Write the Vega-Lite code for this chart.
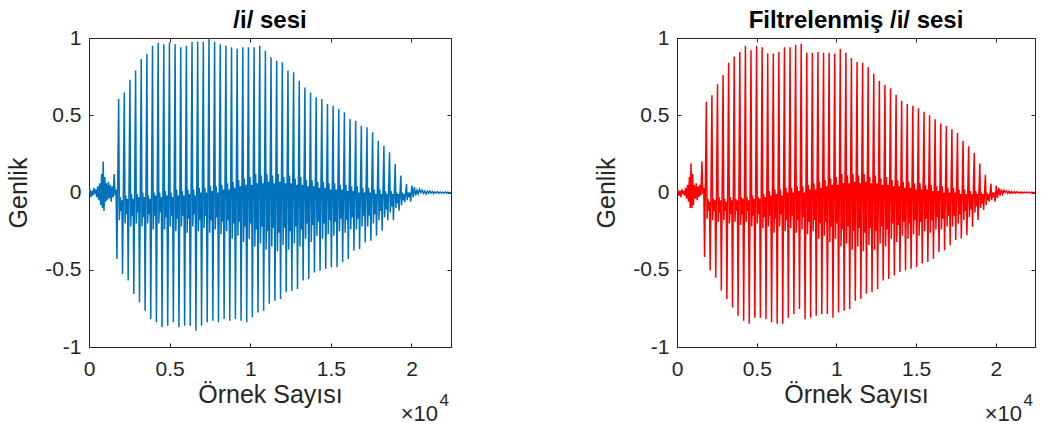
{
  "$schema": "https://vega.github.io/schema/vega-lite/v6.json",
  "background": "white",
  "padding": {"left": 6, "top": 9, "right": 4, "bottom": 0},
  "config": {
    "font": "Liberation Sans",
    "view": {"stroke": null},
    "axis": {
      "labelFont": "Liberation Sans", "titleFont": "Liberation Sans",
      "labelColor": "#262626", "titleColor": "#262626",
      "domainColor": "#262626", "tickColor": "#262626",
      "grid": false, "labelFontSize": 21, "titleFontSize": 25, "titleFontWeight": "normal",
      "tickSize": -4, "domainWidth": 1, "tickWidth": 1
    },
    "title": {"font": "Liberation Sans", "fontSize": 24, "fontWeight": "bold", "color": "#000000", "offset": -6}
  },
  "data": {"values": [
    {"n":0,"a":0.0,"b":0.0},{"n":60,"a":0.02,"b":0.01},{"n":120,"a":-0.03,"b":-0.02},{"n":180,"a":0.01,"b":0.01},
    {"n":240,"a":-0.02,"b":-0.03},{"n":300,"a":0.03,"b":0.02},{"n":360,"a":-0.01,"b":-0.01},{"n":420,"a":0.02,"b":0.01},
    {"n":480,"a":-0.03,"b":-0.02},{"n":540,"a":0.04,"b":0.03},{"n":600,"a":-0.05,"b":-0.04},{"n":660,"a":0.06,"b":0.05},
    {"n":720,"a":-0.08,"b":-0.06},{"n":780,"a":0.12,"b":0.1},{"n":830,"a":-0.1,"b":-0.1},{"n":880,"a":0.2,"b":0.19},
    {"n":930,"a":-0.12,"b":-0.1},{"n":980,"a":0.1,"b":0.12},{"n":1030,"a":-0.06,"b":-0.08},{"n":1080,"a":0.06,"b":0.05},
    {"n":1140,"a":-0.05,"b":-0.04},{"n":1200,"a":0.07,"b":0.06},{"n":1260,"a":-0.04,"b":-0.05},{"n":1320,"a":0.05,"b":0.04},
    {"n":1380,"a":-0.06,"b":-0.03},{"n":1440,"a":0.04,"b":0.05},{"n":1500,"a":-0.03,"b":-0.02},{"n":1560,"a":0.12,"b":0.2},
    {"n":1620,"a":-0.02,"b":-0.01},{"n":1680,"a":0.02,"b":0.03},
    {"n":1730,"a":-0.43,"b":-0.417},{"n":1840,"a":0.605,"b":0.587},{"n":1885,"a":-0.18,"b":-0.17},{"n":1935,"a":-0.03,"b":-0.04},{"n":1990,"a":-0.12,"b":-0.12},{"n":2040,"a":-0.05,"b":-0.06},
    {"n":2080,"a":-0.528,"b":-0.504},{"n":2190,"a":0.648,"b":0.63},{"n":2235,"a":-0.2,"b":-0.18},{"n":2285,"a":-0.02,"b":-0.04},{"n":2340,"a":-0.14,"b":-0.12},{"n":2390,"a":-0.04,"b":-0.05},
    {"n":2430,"a":-0.57,"b":-0.552},{"n":2540,"a":0.73,"b":0.7},{"n":2585,"a":-0.22,"b":-0.19},{"n":2635,"a":-0.01,"b":-0.03},{"n":2690,"a":-0.15,"b":-0.13},{"n":2740,"a":-0.04,"b":-0.05},
    {"n":2780,"a":-0.657,"b":-0.635},{"n":2890,"a":0.79,"b":0.76},{"n":2935,"a":-0.2,"b":-0.18},{"n":2985,"a":-0.01,"b":-0.04},{"n":3040,"a":-0.13,"b":-0.12},{"n":3090,"a":-0.03,"b":-0.06},
    {"n":3130,"a":-0.71,"b":-0.69},{"n":3240,"a":0.864,"b":0.84},{"n":3285,"a":-0.22,"b":-0.2},{"n":3335,"a":0.0,"b":-0.03},{"n":3390,"a":-0.16,"b":-0.14},{"n":3440,"a":-0.03,"b":-0.05},
    {"n":3480,"a":-0.765,"b":-0.744},{"n":3590,"a":0.896,"b":0.88},{"n":3635,"a":-0.2,"b":-0.19},{"n":3685,"a":-0.02,"b":-0.04},{"n":3740,"a":-0.14,"b":-0.12},{"n":3790,"a":-0.04,"b":-0.05},
    {"n":3830,"a":-0.819,"b":-0.798},{"n":3940,"a":0.95,"b":0.91},{"n":3985,"a":-0.24,"b":-0.21},{"n":4035,"a":0.0,"b":-0.03},{"n":4090,"a":-0.15,"b":-0.14},{"n":4140,"a":-0.02,"b":-0.04},
    {"n":4180,"a":-0.84,"b":-0.83},{"n":4290,"a":0.968,"b":0.95},{"n":4335,"a":-0.2,"b":-0.19},{"n":4385,"a":0.0,"b":-0.03},{"n":4440,"a":-0.13,"b":-0.12},{"n":4490,"a":-0.03,"b":-0.05},
    {"n":4530,"a":-0.872,"b":-0.85},{"n":4640,"a":0.96,"b":0.92},{"n":4685,"a":-0.24,"b":-0.22},{"n":4735,"a":0.01,"b":-0.02},{"n":4790,"a":-0.16,"b":-0.15},{"n":4840,"a":-0.02,"b":-0.04},
    {"n":4880,"a":-0.862,"b":-0.81},{"n":4990,"a":0.972,"b":0.95},{"n":5035,"a":-0.22,"b":-0.2},{"n":5085,"a":0.0,"b":-0.03},{"n":5140,"a":-0.15,"b":-0.14},{"n":5190,"a":-0.03,"b":-0.04},
    {"n":5230,"a":-0.84,"b":-0.81},{"n":5340,"a":0.96,"b":0.94},{"n":5385,"a":-0.25,"b":-0.23},{"n":5435,"a":0.02,"b":-0.01},{"n":5490,"a":-0.17,"b":-0.16},{"n":5540,"a":-0.02,"b":-0.03},
    {"n":5580,"a":-0.872,"b":-0.82},{"n":5690,"a":0.94,"b":0.9},{"n":5735,"a":-0.22,"b":-0.22},{"n":5785,"a":0.01,"b":0.01},{"n":5840,"a":-0.15,"b":-0.15},{"n":5890,"a":-0.02,"b":-0.02},
    {"n":5930,"a":-0.862,"b":-0.84},{"n":6040,"a":0.95,"b":0.9},{"n":6085,"a":-0.26,"b":-0.26},{"n":6135,"a":0.02,"b":0.02},{"n":6190,"a":-0.17,"b":-0.17},{"n":6240,"a":-0.01,"b":-0.01},
    {"n":6280,"a":-0.862,"b":-0.85},{"n":6390,"a":0.975,"b":0.91},{"n":6435,"a":-0.22,"b":-0.22},{"n":6485,"a":0.02,"b":0.02},{"n":6540,"a":-0.14,"b":-0.14},{"n":6590,"a":-0.02,"b":-0.02},
    {"n":6630,"a":-0.894,"b":-0.85},{"n":6740,"a":0.975,"b":0.94},{"n":6785,"a":-0.25,"b":-0.25},{"n":6835,"a":0.03,"b":0.03},{"n":6890,"a":-0.18,"b":-0.18},{"n":6940,"a":0.0,"b":0.0},
    {"n":6980,"a":-0.862,"b":-0.81},{"n":7090,"a":0.975,"b":0.94},{"n":7135,"a":-0.23,"b":-0.23},{"n":7185,"a":0.03,"b":0.03},{"n":7240,"a":-0.15,"b":-0.15},{"n":7290,"a":0.0,"b":0.0},
    {"n":7330,"a":-0.84,"b":-0.787},{"n":7440,"a":1.0,"b":0.957},{"n":7485,"a":-0.26,"b":-0.26},{"n":7535,"a":0.04,"b":0.04},{"n":7590,"a":-0.18,"b":-0.18},{"n":7640,"a":0.01,"b":0.01},
    {"n":7680,"a":-0.83,"b":-0.754},{"n":7790,"a":0.975,"b":0.963},{"n":7835,"a":-0.24,"b":-0.24},{"n":7885,"a":0.04,"b":0.04},{"n":7940,"a":-0.16,"b":-0.16},{"n":7990,"a":0.0,"b":0.0},
    {"n":8030,"a":-0.84,"b":-0.82},{"n":8140,"a":0.96,"b":0.905},{"n":8185,"a":-0.27,"b":-0.27},{"n":8235,"a":0.05,"b":0.05},{"n":8290,"a":-0.19,"b":-0.19},{"n":8340,"a":0.02,"b":0.02},
    {"n":8380,"a":-0.819,"b":-0.81},{"n":8490,"a":0.95,"b":0.905},{"n":8535,"a":-0.25,"b":-0.25},{"n":8585,"a":0.06,"b":0.06},{"n":8640,"a":-0.18,"b":-0.18},{"n":8690,"a":0.02,"b":0.02},
    {"n":8730,"a":-0.83,"b":-0.798},{"n":8840,"a":0.94,"b":0.91},{"n":8885,"a":-0.3,"b":-0.3},{"n":8935,"a":0.07,"b":0.07},{"n":8990,"a":-0.2,"b":-0.2},{"n":9040,"a":0.03,"b":0.03},
    {"n":9080,"a":-0.819,"b":-0.787},{"n":9190,"a":0.93,"b":0.905},{"n":9235,"a":-0.28,"b":-0.28},{"n":9285,"a":0.08,"b":0.08},{"n":9340,"a":-0.19,"b":-0.19},{"n":9390,"a":0.04,"b":0.04},
    {"n":9430,"a":-0.83,"b":-0.787},{"n":9540,"a":0.94,"b":0.905},{"n":9585,"a":-0.32,"b":-0.32},{"n":9635,"a":0.09,"b":0.09},{"n":9690,"a":-0.22,"b":-0.22},{"n":9740,"a":0.05,"b":0.05},
    {"n":9780,"a":-0.84,"b":-0.81},{"n":9890,"a":0.94,"b":0.9},{"n":9935,"a":-0.3,"b":-0.3},{"n":9985,"a":0.1,"b":0.1},{"n":10040,"a":-0.2,"b":-0.2},{"n":10090,"a":0.05,"b":0.05},
    {"n":10130,"a":-0.808,"b":-0.776},{"n":10240,"a":0.94,"b":0.93},{"n":10285,"a":-0.35,"b":-0.35},{"n":10335,"a":0.12,"b":0.12},{"n":10390,"a":-0.24,"b":-0.24},{"n":10440,"a":0.06,"b":0.06},
    {"n":10480,"a":-0.776,"b":-0.765},{"n":10590,"a":0.95,"b":0.905},{"n":10635,"a":-0.33,"b":-0.33},{"n":10685,"a":0.11,"b":0.11},{"n":10740,"a":-0.22,"b":-0.22},{"n":10790,"a":0.06,"b":0.06},
    {"n":10830,"a":-0.765,"b":-0.754},{"n":10940,"a":0.918,"b":0.87},{"n":10985,"a":-0.37,"b":-0.37},{"n":11035,"a":0.12,"b":0.12},{"n":11090,"a":-0.25,"b":-0.25},{"n":11140,"a":0.07,"b":0.07},
    {"n":11180,"a":-0.72,"b":-0.7},{"n":11290,"a":0.875,"b":0.844},{"n":11335,"a":-0.35,"b":-0.35},{"n":11385,"a":0.11,"b":0.11},{"n":11440,"a":-0.23,"b":-0.23},{"n":11490,"a":0.06,"b":0.06},
    {"n":11530,"a":-0.7,"b":-0.69},{"n":11640,"a":0.853,"b":0.84},{"n":11685,"a":-0.38,"b":-0.38},{"n":11735,"a":0.12,"b":0.12},{"n":11790,"a":-0.26,"b":-0.26},{"n":11840,"a":0.07,"b":0.07},
    {"n":11880,"a":-0.69,"b":-0.656},{"n":11990,"a":0.843,"b":0.81},{"n":12035,"a":-0.34,"b":-0.34},{"n":12085,"a":0.1,"b":0.1},{"n":12140,"a":-0.23,"b":-0.23},{"n":12190,"a":0.06,"b":0.06},
    {"n":12230,"a":-0.646,"b":-0.646},{"n":12340,"a":0.79,"b":0.768},{"n":12385,"a":-0.37,"b":-0.37},{"n":12435,"a":0.11,"b":0.11},{"n":12490,"a":-0.25,"b":-0.25},{"n":12540,"a":0.06,"b":0.06},
    {"n":12580,"a":-0.636,"b":-0.624},{"n":12690,"a":0.778,"b":0.724},{"n":12735,"a":-0.33,"b":-0.33},{"n":12785,"a":0.09,"b":0.09},{"n":12840,"a":-0.22,"b":-0.22},{"n":12890,"a":0.05,"b":0.05},
    {"n":12930,"a":-0.625,"b":-0.57},{"n":13040,"a":0.724,"b":0.696},{"n":13085,"a":-0.35,"b":-0.35},{"n":13135,"a":0.1,"b":0.1},{"n":13190,"a":-0.24,"b":-0.24},{"n":13240,"a":0.05,"b":0.05},
    {"n":13280,"a":-0.57,"b":-0.56},{"n":13390,"a":0.68,"b":0.674},{"n":13435,"a":-0.3,"b":-0.3},{"n":13485,"a":0.08,"b":0.08},{"n":13540,"a":-0.2,"b":-0.2},{"n":13590,"a":0.04,"b":0.04},
    {"n":13630,"a":-0.56,"b":-0.537},{"n":13740,"a":0.648,"b":0.633},{"n":13785,"a":-0.32,"b":-0.32},{"n":13835,"a":0.08,"b":0.08},{"n":13890,"a":-0.21,"b":-0.21},{"n":13940,"a":0.04,"b":0.04},
    {"n":13980,"a":-0.517,"b":-0.515},{"n":14090,"a":0.616,"b":0.594},{"n":14135,"a":-0.28,"b":-0.28},{"n":14185,"a":0.07,"b":0.07},{"n":14240,"a":-0.19,"b":-0.19},{"n":14290,"a":0.03,"b":0.03},
    {"n":14330,"a":-0.506,"b":-0.504},{"n":14440,"a":0.605,"b":0.572},{"n":14485,"a":-0.3,"b":-0.3},{"n":14535,"a":0.07,"b":0.07},{"n":14590,"a":-0.2,"b":-0.2},{"n":14640,"a":0.03,"b":0.03},
    {"n":14680,"a":-0.495,"b":-0.493},{"n":14790,"a":0.573,"b":0.561},{"n":14835,"a":-0.27,"b":-0.27},{"n":14885,"a":0.06,"b":0.06},{"n":14940,"a":-0.18,"b":-0.18},{"n":14990,"a":0.02,"b":0.02},
    {"n":15030,"a":-0.484,"b":-0.482},{"n":15140,"a":0.562,"b":0.546},{"n":15185,"a":-0.28,"b":-0.28},{"n":15235,"a":0.06,"b":0.06},{"n":15290,"a":-0.19,"b":-0.19},{"n":15340,"a":0.02,"b":0.02},
    {"n":15380,"a":-0.484,"b":-0.46},{"n":15490,"a":0.54,"b":0.522},{"n":15535,"a":-0.25,"b":-0.25},{"n":15585,"a":0.05,"b":0.05},{"n":15640,"a":-0.17,"b":-0.17},{"n":15690,"a":0.02,"b":0.02},
    {"n":15730,"a":-0.452,"b":-0.45},{"n":15840,"a":0.519,"b":0.5},{"n":15885,"a":-0.26,"b":-0.26},{"n":15935,"a":0.05,"b":0.05},{"n":15990,"a":-0.18,"b":-0.18},{"n":16040,"a":0.01,"b":0.01},
    {"n":16080,"a":-0.43,"b":-0.428},{"n":16190,"a":0.476,"b":0.474},{"n":16235,"a":-0.24,"b":-0.24},{"n":16285,"a":0.04,"b":0.04},{"n":16340,"a":-0.16,"b":-0.16},{"n":16390,"a":0.01,"b":0.01},
    {"n":16430,"a":-0.377,"b":-0.385},{"n":16540,"a":0.465,"b":0.446},{"n":16585,"a":-0.24,"b":-0.24},{"n":16635,"a":0.04,"b":0.04},{"n":16690,"a":-0.17,"b":-0.17},{"n":16740,"a":0.0,"b":0.0},
    {"n":16780,"a":-0.366,"b":-0.374},{"n":16890,"a":0.432,"b":0.43},{"n":16935,"a":-0.22,"b":-0.22},{"n":16985,"a":0.03,"b":0.03},{"n":17040,"a":-0.15,"b":-0.15},{"n":17090,"a":0.0,"b":0.0},
    {"n":17130,"a":-0.322,"b":-0.341},{"n":17240,"a":0.422,"b":0.41},{"n":17285,"a":-0.22,"b":-0.22},{"n":17335,"a":0.03,"b":0.03},{"n":17390,"a":-0.15,"b":-0.15},{"n":17440,"a":0.0,"b":0.0},
    {"n":17480,"a":-0.312,"b":-0.308},{"n":17590,"a":0.39,"b":0.387},{"n":17635,"a":-0.2,"b":-0.2},{"n":17685,"a":0.02,"b":0.02},{"n":17740,"a":-0.14,"b":-0.14},{"n":17790,"a":-0.01,"b":-0.01},
    {"n":17830,"a":-0.28,"b":-0.297},{"n":17940,"a":0.335,"b":0.333},{"n":17985,"a":-0.18,"b":-0.18},{"n":18035,"a":0.02,"b":0.02},{"n":18090,"a":-0.12,"b":-0.12},{"n":18140,"a":-0.01,"b":-0.01},
    {"n":18180,"a":-0.247,"b":-0.276},{"n":18290,"a":0.303,"b":0.3},{"n":18335,"a":-0.16,"b":-0.16},{"n":18385,"a":0.01,"b":0.01},{"n":18440,"a":-0.11,"b":-0.11},{"n":18490,"a":-0.01,"b":-0.01},
    {"n":18530,"a":-0.18,"b":-0.222},{"n":18640,"a":0.26,"b":0.257},{"n":18685,"a":-0.13,"b":-0.13},{"n":18735,"a":0.01,"b":0.01},{"n":18790,"a":-0.09,"b":-0.09},{"n":18840,"a":-0.01,"b":-0.01},
    {"n":18880,"a":-0.18,"b":-0.178},{"n":18990,"a":0.184,"b":0.187},{"n":19035,"a":-0.1,"b":-0.1},{"n":19085,"a":0.0,"b":0.0},{"n":19140,"a":-0.07,"b":-0.07},{"n":19190,"a":-0.01,"b":-0.01},
    {"n":19230,"a":-0.118,"b":-0.113},{"n":19340,"a":0.109,"b":0.115},{"n":19385,"a":-0.08,"b":-0.08},{"n":19435,"a":0.0,"b":0.0},{"n":19490,"a":-0.05,"b":-0.05},{"n":19540,"a":-0.01,"b":-0.01},
    {"n":19580,"a":-0.063,"b":-0.059},{"n":19690,"a":0.055,"b":0.057},{"n":19735,"a":-0.05,"b":-0.05},{"n":19785,"a":0.0,"b":0.0},{"n":19840,"a":-0.03,"b":-0.03},{"n":19890,"a":0.0,"b":0.0},
    {"n":19950,"a":-0.06,"b":-0.06},{"n":20020,"a":0.045,"b":0.044},{"n":20100,"a":-0.03,"b":-0.035},{"n":20180,"a":0.035,"b":0.03},
    {"n":20260,"a":-0.02,"b":-0.02},{"n":20340,"a":0.015,"b":0.02},{"n":20420,"a":-0.01,"b":-0.01},{"n":20500,"a":0.02,"b":0.015},
    {"n":20580,"a":0.0,"b":0.0},{"n":20660,"a":0.015,"b":0.01},{"n":20740,"a":-0.005,"b":-0.005},{"n":20820,"a":0.01,"b":0.008},
    {"n":20900,"a":-0.01,"b":-0.006},{"n":20980,"a":0.008,"b":0.006},{"n":21060,"a":-0.005,"b":-0.004},{"n":21140,"a":0.01,"b":0.006},
    {"n":21220,"a":-0.004,"b":-0.004},{"n":21300,"a":0.006,"b":0.004},{"n":21380,"a":-0.008,"b":-0.003},{"n":21460,"a":0.004,"b":0.004},
    {"n":21540,"a":-0.003,"b":-0.003},{"n":21620,"a":0.006,"b":0.003},{"n":21700,"a":-0.005,"b":-0.004},{"n":21780,"a":0.003,"b":0.002},
    {"n":21860,"a":-0.004,"b":-0.003},{"n":21940,"a":0.002,"b":0.002},{"n":22020,"a":-0.005,"b":-0.003},{"n":22100,"a":0.003,"b":0.002},
    {"n":22180,"a":-0.002,"b":-0.002},{"n":22260,"a":0.002,"b":0.002},{"n":22340,"a":-0.003,"b":-0.002},{"n":22450,"a":0.0,"b":0.0}
  ]},
  "spacing": 226,
  "bounds": "flush",
  "hconcat": [
    {
      "width": 362, "height": 309,
      "title": {"text": "/i/ sesi"},
      "layer": [
        {
          "mark": {"type": "line", "color": "#0072BD", "strokeWidth": 1.5, "clip": true},
          "encoding": {
            "x": {"field": "n", "type": "quantitative", "scale": {"domain": [0, 22450], "nice": false, "zero": false},
                  "axis": {"orient": "bottom", "values": [0, 5000, 10000, 15000, 20000], "labelExpr": "'' + datum.value / 10000", "title": "Örnek Sayısı", "labelPadding": 15, "titlePadding": 3, "labelFlush": false}},
            "y": {"field": "a", "type": "quantitative", "scale": {"domain": [-1, 1], "nice": false},
                  "axis": {"orient": "left", "values": [-1, -0.5, 0, 0.5, 1], "labelExpr": "'' + datum.value", "title": "Genlik", "labelPadding": 12, "titlePadding": 13}}
          }
        },
        {
          "mark": {"type": "point", "opacity": 0},
          "encoding": {
            "x": {"field": "n", "type": "quantitative", "axis": {"orient": "top", "values": [0, 5000, 10000, 15000, 20000], "labels": false, "title": null}},
            "y": {"field": "a", "type": "quantitative", "axis": {"orient": "right", "values": [-1, -0.5, 0, 0.5, 1], "labels": false, "title": null}}
          }
        },
        {
          "data": {"values": [{"label": "×10"}]},
          "mark": {"type": "text", "align": "right", "baseline": "alphabetic", "dx": -13, "dy": 74, "fontSize": 22, "color": "#262626", "font": "Liberation Sans"},
          "encoding": {"text": {"field": "label"}, "x": {"datum": 22450, "axis": null}, "y": {"datum": -1, "axis": null}}
        },
        {
          "data": {"values": [{"label": "4"}]},
          "mark": {"type": "text", "align": "right", "baseline": "alphabetic", "dx": -2, "dy": 59, "fontSize": 17, "color": "#262626", "font": "Liberation Sans"},
          "encoding": {"text": {"field": "label"}, "x": {"datum": 22450, "axis": null}, "y": {"datum": -1, "axis": null}}
        }
      ],
      "resolve": {"axis": {"x": "independent", "y": "independent"}}
    },
    {
      "width": 358, "height": 309,
      "title": {"text": "Filtrelenmiş /i/ sesi"},
      "layer": [
        {
          "mark": {"type": "line", "color": "#FF0000", "strokeWidth": 1.5, "clip": true},
          "encoding": {
            "x": {"field": "n", "type": "quantitative", "scale": {"domain": [0, 22450], "nice": false, "zero": false},
                  "axis": {"orient": "bottom", "values": [0, 5000, 10000, 15000, 20000], "labelExpr": "'' + datum.value / 10000", "title": "Örnek Sayısı", "labelPadding": 15, "titlePadding": 3, "labelFlush": false}},
            "y": {"field": "b", "type": "quantitative", "scale": {"domain": [-1, 1], "nice": false},
                  "axis": {"orient": "left", "values": [-1, -0.5, 0, 0.5, 1], "labelExpr": "'' + datum.value", "title": "Genlik", "labelPadding": 12, "titlePadding": 13}}
          }
        },
        {
          "mark": {"type": "point", "opacity": 0},
          "encoding": {
            "x": {"field": "n", "type": "quantitative", "axis": {"orient": "top", "values": [0, 5000, 10000, 15000, 20000], "labels": false, "title": null}},
            "y": {"field": "b", "type": "quantitative", "axis": {"orient": "right", "values": [-1, -0.5, 0, 0.5, 1], "labels": false, "title": null}}
          }
        },
        {
          "data": {"values": [{"label": "×10"}]},
          "mark": {"type": "text", "align": "right", "baseline": "alphabetic", "dx": -13, "dy": 74, "fontSize": 22, "color": "#262626", "font": "Liberation Sans"},
          "encoding": {"text": {"field": "label"}, "x": {"datum": 22450, "axis": null}, "y": {"datum": -1, "axis": null}}
        },
        {
          "data": {"values": [{"label": "4"}]},
          "mark": {"type": "text", "align": "right", "baseline": "alphabetic", "dx": -2, "dy": 59, "fontSize": 17, "color": "#262626", "font": "Liberation Sans"},
          "encoding": {"text": {"field": "label"}, "x": {"datum": 22450, "axis": null}, "y": {"datum": -1, "axis": null}}
        }
      ],
      "resolve": {"axis": {"x": "independent", "y": "independent"}}
    }
  ]
}
